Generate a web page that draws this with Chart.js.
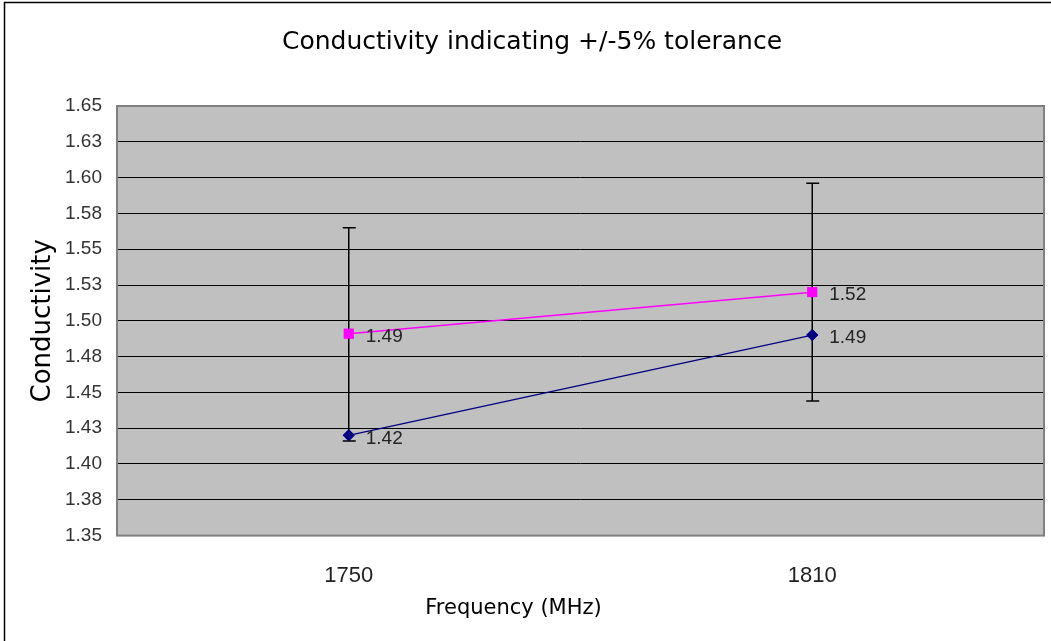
<!DOCTYPE html>
<html>
<head>
<meta charset="utf-8">
<script src="https://cdn.jsdelivr.net/npm/chart.js@4.4.0/dist/chart.umd.min.js"></script>
<style>
  html, body { margin: 0; padding: 0; background: #fff; }
  #wrap { width: 1051px; height: 641px; }
</style>
</head>
<body>
<div id="wrap"><canvas id="chart" width="1051" height="641"></canvas></div>
<script>
// values
var frequencies = ['1750', '1810'];
var measured = [1.491, 1.520];      // magenta, with the +/-5% bars
var target = [1.420, 1.490];        // navy
var measuredLabels = ['1.49', '1.52'];
var targetLabels = ['1.42', '1.49'];
var errorUp = [0.074, 0.076];
var errorDown = [0.075, 0.076];
var yTickLabels = ['1.35', '1.38', '1.40', '1.43', '1.45', '1.48', '1.50',
                   '1.53', '1.55', '1.58', '1.60', '1.63', '1.65'];
var xTitle = 'Frequency (MHz)';

var frame = {
    id: 'frame',
    beforeDraw: function(chart) {
        var c = chart.ctx, a = chart.chartArea;
        c.save();
        c.fillStyle = '#c0c0c0';
        c.fillRect(a.left, a.top, a.right - a.left, a.bottom - a.top);
        c.strokeStyle = '#000';
        c.lineWidth = 1.5;
        c.beginPath();
        c.moveTo(4.5, 641);
        c.lineTo(4.5, 2.5);
        c.lineTo(1051, 2.5);
        c.stroke();
        c.restore();
    },
    afterDatasetsDraw: function(chart) {
        var c = chart.ctx, a = chart.chartArea;
        var xs = chart.scales.x, ys = chart.scales.y;
        c.save();
        // plot border
        c.strokeStyle = '#808080';
        c.lineWidth = 2;
        c.strokeRect(a.left, a.top, a.right - a.left, a.bottom - a.top);
        // error bars on the magenta series
        c.strokeStyle = '#000';
        c.lineWidth = 1.5;
        measured.forEach(function(v, i) {
            var x = xs.getPixelForValue(i);
            var y1 = ys.getPixelForValue(v + errorUp[i]);
            var y2 = ys.getPixelForValue(v - errorDown[i]);
            c.beginPath();
            c.moveTo(x, y1); c.lineTo(x, y2);
            c.moveTo(x - 6, y1); c.lineTo(x + 7, y1);
            c.moveTo(x - 6, y2); c.lineTo(x + 7, y2);
            c.stroke();
        });
        // redraw points over the bars
        chart.getDatasetMeta(0).data.forEach(function(p) { p.draw(c); });
        chart.getDatasetMeta(1).data.forEach(function(p) { p.draw(c); });
        // value labels
        c.fillStyle = '#222';
        c.font = '19px "Liberation Sans", Arial, sans-serif';
        c.textBaseline = 'middle';
        c.textAlign = 'left';
        measured.forEach(function(v, i) {
            c.fillText(measuredLabels[i], xs.getPixelForValue(i) + 17, ys.getPixelForValue(v) + 3);
        });
        target.forEach(function(v, i) {
            c.fillText(targetLabels[i], xs.getPixelForValue(i) + 17, ys.getPixelForValue(v) + 3);
        });
        // x axis title, sits left of the plot centre like the original
        c.fillStyle = '#000';
        c.font = '21px "DejaVu Sans", sans-serif';
        c.textAlign = 'center';
        c.fillText(xTitle, chart.width / 2 - 12, a.bottom + 73);
        c.restore();
    }
};

var ctx = document.getElementById('chart').getContext('2d');
var chart = new Chart(ctx, {
    type: 'line',
    data: {
        labels: frequencies,
        datasets: [{
            label: 'measured',
            data: measured,
            borderColor: '#ff00ff',
            backgroundColor: '#ff00ff',
            borderWidth: 1.5,
            pointStyle: 'rect',
            pointRadius: 7,
            pointBorderWidth: 0
        }, {
            label: 'target',
            data: target,
            borderColor: '#000080',
            backgroundColor: '#000080',
            borderWidth: 1.5,
            pointStyle: 'rectRot',
            pointRadius: 6,
            pointBorderWidth: 0
        }]
    },
    options: {
        responsive: false,
        animation: false,
        layout: { padding: { left: 20, right: 7, top: 0, bottom: 25 } },
        plugins: {
            legend: { display: false },
            tooltip: { enabled: false },
            title: {
                display: true,
                text: 'Conductivity indicating +/-5% tolerance',
                color: '#000',
                font: { family: '"DejaVu Sans"', size: 25, weight: 'normal' },
                padding: { top: 27, bottom: 49 }
            }
        },
        scales: {
            x: {
                offset: true,
                grid: { display: false, drawTicks: false },
                border: { display: false },
                ticks: {
                    color: '#222',
                    font: { family: '"Liberation Sans", Arial', size: 22 },
                    padding: 27
                }
            },
            y: {
                min: 1.35,
                max: 1.65,
                afterFit: function(s) { s.width = 97; },
                grid: { color: '#000', lineWidth: 1, drawTicks: false },
                border: { display: false },
                ticks: {
                    stepSize: 0.025,
                    color: '#333',
                    padding: 15,
                    font: { family: '"Liberation Sans", Arial', size: 19 },
                    callback: function(v, i) { return yTickLabels[i]; }
                },
                title: {
                    display: true,
                    text: 'Conductivity',
                    color: '#000',
                    font: { family: '"DejaVu Sans"', size: 26 },
                    padding: { top: 8, bottom: 0 }
                }
            }
        }
    },
    plugins: [frame]
});
</script>
</body>
</html>
